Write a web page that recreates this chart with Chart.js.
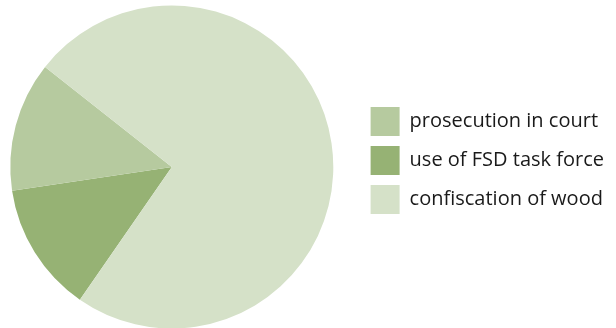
<!DOCTYPE html>
<html>
<head>
<meta charset="utf-8">
<script src="https://cdn.jsdelivr.net/npm/chart.js@4/dist/chart.umd.min.js"></script>
<style>
  html, body { margin: 0; padding: 0; background: #fff; }
  #wrap { position: relative; width: 616px; height: 328px; overflow: hidden; }
  #pie { position: absolute; left: -17px; top: 0; }
</style>
</head>
<body>
<div id="wrap"><canvas id="pie" width="633" height="328"></canvas></div>
<script>
// slices in drawing order (clockwise from the lower-left edge)
const categories = ['use of FSD task force', 'prosecution in court', 'confiscation of wood'];
const shares = [13, 13, 74];
const colors = ['#96b274', '#b6ca9f', '#d5e1c8'];
// order the legend lists them in
const legendOrder = ['prosecution in court', 'use of FSD task force', 'confiscation of wood'];

const ctx = document.getElementById('pie');

new Chart(ctx, {
    type: 'pie',
    data: {
        labels: categories,
        datasets: [{
            data: shares,
            backgroundColor: colors,
            borderWidth: 0
        }]
    },
    options: {
        responsive: false,
        animation: false,
        rotation: 214.7,
        radius: 161.5,
        layout: {
            padding: { left: 0, right: 2, top: 6, bottom: 0 }
        },
        plugins: {
            tooltip: { enabled: false },
            legend: {
                position: 'right',
                align: 'start',
                // empty title used as top spacing for the legend column
                title: {
                    display: true,
                    text: '',
                    padding: { top: 90, bottom: 0 },
                    font: { size: 1, lineHeight: 1 }
                },
                labels: {
                    boxWidth: 29,
                    boxHeight: 29,
                    padding: 10,
                    color: '#1a1a1a',
                    font: { family: 'Open Sans', size: 20 },
                    sort: (a, b) => legendOrder.indexOf(a.text) - legendOrder.indexOf(b.text)
                }
            }
        }
    }
});
</script>
</body>
</html>
